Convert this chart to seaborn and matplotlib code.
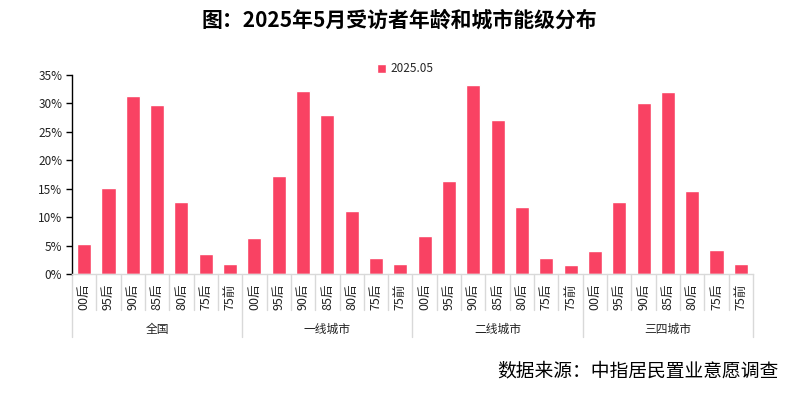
import matplotlib
matplotlib.use("Agg")
import matplotlib.pyplot as plt
import matplotlib.transforms as mtransforms
import seaborn as sns
import pandas as pd

groups = ["全国", "一线城市", "二线城市", "三四城市"]
ages = ["00后", "95后", "90后", "85后", "80后", "75后", "75前"]
v_national = [5.3, 15.1, 31.3, 29.7, 12.7, 3.5, 1.8]
v_tier1 = [6.3, 17.2, 32.2, 28.0, 11.1, 2.8, 1.8]
v_tier2 = [6.7, 16.4, 33.2, 27.1, 11.8, 2.8, 1.6]
v_tier34 = [4.0, 12.7, 30.1, 32.0, 14.6, 4.2, 1.8]
series_name = "2025.05"
title = "图：2025年5月受访者年龄和城市能级分布"
source = "数据来源：中指居民置业意愿调查"

values = [v_national, v_tier1, v_tier2, v_tier34]
rows = []
for g, vals in zip(groups, values):
    for a, v in zip(ages, vals):
        rows.append({"key": f"{g}|{a}", "group": g, "age": a, "value": v, "series": series_name})
df = pd.DataFrame(rows)
order = list(df["key"])

sns.set_theme(style="white")
plt.rcParams["font.family"] = ["Noto Sans CJK SC", "DejaVu Sans"]

BAR = "#F94263"
fig = plt.figure(figsize=(7.98, 3.94), dpi=100)
ax = fig.add_axes([72/798, 1-274/394, (753-72)/798, (274-75)/394])

sns.barplot(data=df, x="key", y="value", hue="series", order=order,
            palette=[BAR], width=0.58, ax=ax, saturation=1, legend=True)

ax.set_ylim(0, 35)
ax.set_xlim(-0.5, len(order) - 0.5)
ax.set_yticks(range(0, 36, 5))
ax.set_yticklabels([f"{t}%" for t in range(0, 36, 5)], fontsize=8.5, color="#222222")
ax.tick_params(axis="y", direction="out", length=4, width=1, color="black", pad=3, left=True)
ax.set_xticks(range(len(order)))
ax.set_xticklabels([])
ax.tick_params(axis="x", length=0)
ax.set_xlabel("")
ax.set_ylabel("")
for s in ["top", "right"]:
    ax.spines[s].set_visible(False)
ax.spines["left"].set_color("black")
ax.spines["left"].set_linewidth(1)
ax.spines["bottom"].set_color("#d9d9d9")
ax.spines["bottom"].set_linewidth(1)

trans = mtransforms.blended_transform_factory(ax.transData, fig.transFigure)
def fy(py):
    return 1 - py / 394

n = len(order)
for i, key in enumerate(order):
    age = key.split("|")[1]
    ax.text(i, fy(284), age, rotation=90, ha="center", va="top",
            fontsize=9, color="#222222", transform=trans)
for b in range(n + 1):
    x = b - 0.5
    if b % len(ages) == 0:
        ax.plot([x, x], [fy(274), fy(337)], color="#d9d9d9", lw=1, transform=trans, clip_on=False)
    else:
        ax.plot([x, x], [fy(274), fy(310)], color="#d9d9d9", lw=1, transform=trans, clip_on=False)
for gi, g in enumerate(groups):
    xc = gi * len(ages) + (len(ages) - 1) / 2
    ax.text(xc, fy(329), g, ha="center", va="center", fontsize=8.5,
            color="#222222", transform=trans)

leg = ax.legend(loc="center", bbox_to_anchor=(405/798, fy(69)), bbox_transform=fig.transFigure,
                frameon=False, fontsize=8.5, handlelength=0.75, handleheight=0.75,
                handletextpad=0.4, borderpad=0)

fig.text(0.5, fy(20), title, ha="center", va="center", fontsize=15, fontweight="bold", color="black")
fig.text(778/798, fy(371), source, ha="right", va="center", fontsize=13.5, color="black")

fig.savefig("out.png", dpi=100)
